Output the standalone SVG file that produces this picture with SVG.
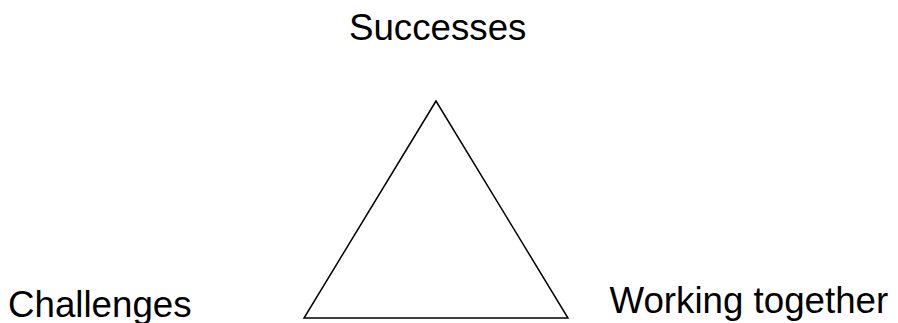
<svg xmlns="http://www.w3.org/2000/svg" width="898" height="323" viewBox="0 0 898 323">
<style>
.lbl{font-family:"Liberation Sans",Arial,sans-serif;font-size:36.7px;fill:#000}
.tri{fill:none;stroke:#000;stroke-width:1.5}
</style>
<rect width="898" height="323" fill="#fff"/>
<g id="triangle"><polygon class="tri" points="436,101 304,318 568,318"/></g>
<g id="successes"><text class="lbl" x="349" y="39.5">Successes</text></g>
<g id="challenges"><text class="lbl" x="8" y="316.5">Challenges</text></g>
<g id="working-together"><text class="lbl" x="609.5" y="313">Working together</text></g>
<g id="connectors"></g>
</svg>
